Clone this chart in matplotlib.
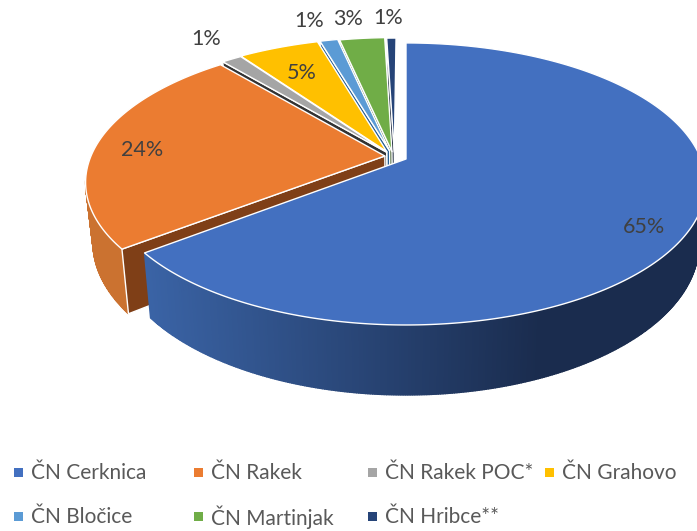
import numpy as np
import matplotlib
matplotlib.use("Agg")
import matplotlib.pyplot as plt
from matplotlib.colors import to_rgb
from matplotlib.patches import Polygon, Rectangle

# ---- data ----
categories = ["ČN Cerknica", "ČN Rakek", "ČN Rakek POC*", "ČN Grahovo",
              "ČN Bločice", "ČN Martinjak", "ČN Hribce**"]
values = [64.5, 24.35, 1.3, 5.2, 1.15, 2.9, 0.6]
labels = ["65%", "24%", "1%", "5%", "1%", "3%", "1%"]

# ---- style ----
top_colors = ["#4370C0", "#EB7C31", "#A5A5A5", "#FFC000", "#5B9BD5", "#70AD47", "#264478"]
face_colors = ["#2F5597", "#7F3F17", "#333333", "#7F6000", "#255E91", "#375623", "#111D33"]
side_left = ["#3A63A5", "#CB7230", "#808080", "#BF9000", "#3F75A5", "#548235", "#1C335A"]
side_right = ["#1A2C4E", "#BC6522", "#808080", "#BF9000", "#3F75A5", "#548235", "#1C335A"]
shift_u = [0.0, -0.072, -0.066, -0.066, -0.056, -0.048, -0.040]
shift_v = [0.0, -0.022, -0.050, -0.055, -0.060, -0.055, -0.050]
label_xy = [(644, 227), (142, 150), (206, 39), (302, 73), (309, 21), (348, 19), (388, 18)]
legend_xy = [(31, 473), (211, 473), (385, 473), (562, 473),
             (31, 517), (211, 517), (385, 517)]
TEXT = "#404040"
FONT = "Lato"

CX, CY, A, C, K = 406.0, 159.0, 295.0, 136.6, 0.177


def proj(u, v):
    w = 1 - K * v
    return CX + A * u / w, CY + C * v / w


def lower(x, y):
    return CX + (x - CX) * 0.977, y + 58.3 + 0.0704 * (y - CY)


fig = plt.figure(figsize=(6.97, 5.31), dpi=100)
ax = fig.add_axes([0, 0, 1, 1])
ax.set_xlim(0, 697)
ax.set_ylim(531, 0)
ax.axis("off")

edges = np.concatenate([[0], np.cumsum(values)]) / np.sum(values) * 2 * np.pi
z = 1
for i in range(len(values) - 1, -1, -1):
    t = np.linspace(edges[i], edges[i + 1], max(int((edges[i + 1] - edges[i]) * 150), 4))
    u0, v0 = shift_u[i], shift_v[i]
    xr, yr = proj(u0 + np.sin(t), v0 - np.cos(t))
    xa, ya = proj(u0, v0)
    xb, yb = lower(xr, yr)
    xab, yab = lower(xa, ya)
    vis = (v0 - np.cos(t)) > K - 0.02
    cl, cr = np.array(to_rgb(side_left[i])), np.array(to_rgb(side_right[i]))
    for j in range(len(t) - 1):
        if vis[j] or vis[j + 1]:
            f = np.clip((0.5 * (xr[j] + xr[j + 1]) - 147) / 393, 0, 1)
            col = cl + (cr - cl) * f
            ax.add_patch(Polygon([(xr[j], yr[j]), (xr[j + 1], yr[j + 1]),
                                  (xb[j + 1], yb[j + 1]), (xb[j], yb[j])],
                                 fc=col, ec=col, lw=1.0, zorder=z))
    z += 1
    if np.pi < edges[i] < 2 * np.pi:
        ax.add_patch(Polygon([(xa, ya), (xr[0], yr[0]), (xb[0], yb[0]), (xab, yab)],
                             fc=face_colors[i], ec="white", lw=1.0, zorder=z))
        z += 1
    ax.add_patch(Polygon(np.column_stack([np.r_[xa, xr], np.r_[ya, yr]]),
                         fc=top_colors[i], ec="white", lw=1.0, joinstyle="round", zorder=z))
    z += 1

for (x, y), s in zip(label_xy, labels):
    ax.text(x, y, s, ha="center", va="center", fontsize=15.5, color=TEXT,
            family=FONT, zorder=z)

for (x, y), name, c in zip(legend_xy, categories, top_colors):
    ax.add_patch(Rectangle((x - 17.5, y - 5.5), 9, 9, fc=c, ec="none", zorder=z))
    ax.text(x, y, name, ha="left", va="center", fontsize=15, color="#595959",
            family=FONT, zorder=z)

fig.savefig("out.png", dpi=100, facecolor="white")
